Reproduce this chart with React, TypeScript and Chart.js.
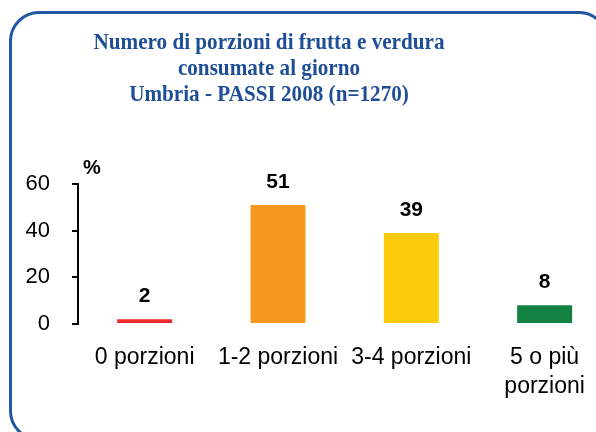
import React, { useEffect, useRef } from "react";
import { Chart, registerables } from "chart.js";

Chart.register(...registerables);

const titleLines = [
  "Numero di porzioni di frutta e verdura",
  "consumate al giorno",
  "Umbria - PASSI 2008 (n=1270)",
];
const categories: (string | string[])[] = [
  "0 porzioni",
  "1-2 porzioni",
  "3-4 porzioni",
  ["5 o più", "porzioni"],
];
const values = [2, 51, 39, 8];
const barColors = ["#EE2A2A", "#F7991F", "#FCCB0A", "#128141"];
const yTicks = [0, 20, 40, 60];
const unitLabel = "%";

const SANS = '"Liberation Sans", Arial, sans-serif';

const valueLabelPlugin = {
  id: "valueLabels",
  afterDatasetsDraw(chart: any) {
    const ctx = chart.ctx;
    const meta = chart.getDatasetMeta(0);
    ctx.save();
    ctx.fillStyle = "#000";
    ctx.font = `bold 21px ${SANS}`;
    ctx.textAlign = "center";
    ctx.textBaseline = "alphabetic";
    meta.data.forEach((bar: any, i: number) => {
      ctx.fillText(String(values[i]), bar.x, bar.y - 17);
    });
    ctx.font = `bold 20px ${SANS}`;
    ctx.textAlign = "left";
    ctx.fillText(unitLabel, chart.chartArea.left + 5, chart.chartArea.top - 10);
    ctx.restore();
  },
};

export default function App() {
  const ref = useRef<HTMLCanvasElement | null>(null);

  useEffect(() => {
    if (!ref.current) return;
    const chart = new Chart(ref.current, {
      type: "bar",
      data: {
        labels: categories,
        datasets: [
          {
            data: values,
            backgroundColor: barColors,
            borderWidth: 0,
            barPercentage: 0.4125,
            categoryPercentage: 1,
          },
        ],
      },
      options: {
        responsive: false,
        animation: false,
        devicePixelRatio: 1,
        layout: { padding: { top: 184, bottom: 0, left: 0, right: 28.7 } },
        plugins: {
          legend: { display: false },
          title: { display: false },
          tooltip: { enabled: false },
        },
        scales: {
          x: {
            grid: { display: false, drawTicks: false, tickLength: 0 },
            border: { display: false },
            ticks: {
              color: "#000",
              font: { family: SANS, size: 23, lineHeight: 1.26 },
              padding: 19,
              maxRotation: 0,
              autoSkip: false,
            },
            afterFit: (scale: any) => {
              scale.height = 108;
            },
          },
          y: {
            min: 0,
            max: 60,
            afterBuildTicks: (scale: any) => {
              scale.ticks = yTicks.map((v) => ({ value: v }));
            },
            grid: {
              drawOnChartArea: false,
              drawTicks: true,
              tickLength: 6,
              color: "#000",
              lineWidth: 2,
            },
            border: { display: true, color: "#000", width: 2 },
            ticks: {
              color: "#000",
              font: { family: SANS, size: 22 },
              padding: 22,
            },
            afterFit: (scale: any) => {
              scale.width = 78;
            },
          },
        },
      },
      plugins: [valueLabelPlugin],
    });
    return () => chart.destroy();
  }, []);

  return (
    <div
      style={{
        position: "fixed",
        left: 0,
        top: 0,
        width: 596,
        height: 432,
        overflow: "hidden",
        background: "#fff",
      }}
    >
      <div
        style={{
          position: "absolute",
          left: 9,
          top: 11,
          width: 600,
          height: 430,
          border: "3px solid #2157A3",
          borderRadius: 30,
          boxSizing: "border-box",
        }}
      />
      <canvas
        ref={ref}
        width={640}
        height={432}
        style={{ position: "absolute", left: 0, top: 0, width: 640, height: 432 }}
      />
      <div
        style={{
          position: "absolute",
          left: 0,
          top: 29,
          width: 538,
          textAlign: "center",
          fontFamily: '"Liberation Serif", "Times New Roman", serif',
          fontWeight: "bold",
          fontSize: 23,
          lineHeight: "26px",
          color: "#1F4E97",
          transform: "scaleX(0.92)",
          transformOrigin: "269px 0",
        }}
      >
        {titleLines.map((l, i) => (
          <div key={i}>{l}</div>
        ))}
      </div>
    </div>
  );
}
